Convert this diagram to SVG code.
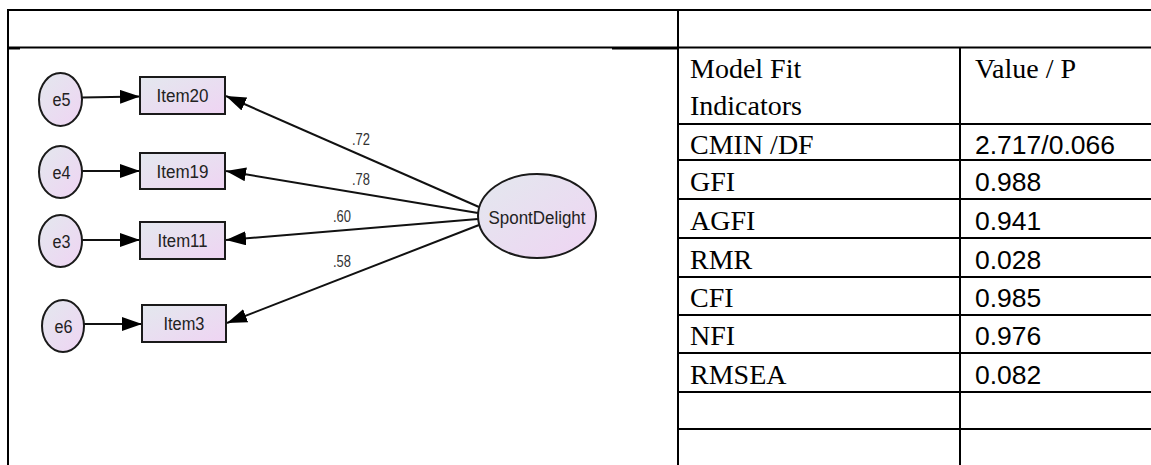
<svg xmlns="http://www.w3.org/2000/svg" width="1151" height="465" viewBox="0 0 1151 465">
  <style>
    .grid { stroke: #000; stroke-width: 2; fill: none; }
    .node { fill: url(#nodeFill); stroke: #1a1a1a; stroke-width: 2; }
    .nlabel { font-family: "Liberation Sans", Arial, sans-serif; font-size: 18px; fill: #222; text-anchor: middle; }
    .coef { font-family: "Liberation Sans", Arial, sans-serif; font-size: 16px; fill: #333; }
    .edge { stroke: #111; stroke-width: 2; fill: none; }
    .th { font-family: "Liberation Serif", "Times New Roman", serif; font-size: 28px; fill: #000; }
    .tv { font-family: "Liberation Sans", Arial, sans-serif; font-size: 26.5px; fill: #000; }
  </style>
  <defs>
    <linearGradient id="nodeFill" x1="0" y1="0" x2="1" y2="1">
      <stop offset="0" stop-color="#e3e8ee"/>
      <stop offset="1" stop-color="#efd4f3"/>
    </linearGradient>
    <marker id="arrow" markerUnits="userSpaceOnUse" markerWidth="20" markerHeight="14" refX="20" refY="7" orient="auto">
      <path d="M0,0 L20,7 L0,14 z" fill="#000"/>
    </marker>
  </defs>

  <rect width="1151" height="465" fill="#fff"/>

  <!-- table rules -->
  <g id="table-grid">
    <line class="grid" x1="8" y1="10" x2="1151" y2="10"/>
    <line class="grid" x1="8" y1="9" x2="8" y2="465"/>
    <line class="grid" x1="678" y1="9" x2="678" y2="465"/>
    <line class="grid" x1="960" y1="48" x2="960" y2="465"/>
    <line class="grid" x1="8" y1="47.5" x2="1151" y2="47.5" stroke-width="1.5"/>
    <line class="grid" x1="8" y1="48.5" x2="20" y2="48.5"/>
    <line class="grid" x1="612" y1="48.5" x2="678" y2="48.5"/>
    <line class="grid" x1="678" y1="124" x2="1151" y2="124"/>
    <line class="grid" x1="678" y1="160" x2="1151" y2="160"/>
    <line class="grid" x1="678" y1="199" x2="1151" y2="199"/>
    <line class="grid" x1="678" y1="238" x2="1151" y2="238"/>
    <line class="grid" x1="678" y1="277" x2="1151" y2="277"/>
    <line class="grid" x1="678" y1="315" x2="1151" y2="315"/>
    <line class="grid" x1="678" y1="353" x2="1151" y2="353"/>
    <line class="grid" x1="678" y1="392" x2="1151" y2="392"/>
    <line class="grid" x1="678" y1="429" x2="1151" y2="429"/>
  </g>

  <!-- fit indices table text -->
  <g id="table-text">
    <text class="th" x="690" y="78">Model Fit</text>
    <text class="th" x="690" y="115">Indicators</text>
    <text class="th" x="975" y="78">Value / P</text>
    <text class="th" x="690" y="154">CMIN /DF</text>
    <text class="tv" x="975" y="154">2.717/0.066</text>
    <text class="th" x="690" y="191">GFI</text>
    <text class="tv" x="975" y="191">0.988</text>
    <text class="th" x="690" y="230">AGFI</text>
    <text class="tv" x="975" y="230">0.941</text>
    <text class="th" x="690" y="269">RMR</text>
    <text class="tv" x="975" y="269">0.028</text>
    <text class="th" x="690" y="307">CFI</text>
    <text class="tv" x="975" y="307">0.985</text>
    <text class="th" x="690" y="345">NFI</text>
    <text class="tv" x="975" y="345">0.976</text>
    <text class="th" x="690" y="384">RMSEA</text>
    <text class="tv" x="975" y="384">0.082</text>
  </g>

  <!-- path model connectors -->
  <g id="connectors">
    <line class="edge" x1="82" y1="97.5" x2="140" y2="96.5" marker-end="url(#arrow)"/>
    <line class="edge" x1="82" y1="171" x2="140" y2="171" marker-end="url(#arrow)"/>
    <line class="edge" x1="82" y1="240" x2="140" y2="240" marker-end="url(#arrow)"/>
    <line class="edge" x1="84" y1="324" x2="142" y2="324" marker-end="url(#arrow)"/>
    <line class="edge" x1="479" y1="207" x2="226" y2="96" marker-end="url(#arrow)"/>
    <line class="edge" x1="478" y1="213" x2="226" y2="171" marker-end="url(#arrow)"/>
    <line class="edge" x1="478" y1="219" x2="226" y2="240" marker-end="url(#arrow)"/>
    <line class="edge" x1="479" y1="225" x2="227" y2="323" marker-end="url(#arrow)"/>
    <text class="coef" x="352" y="145" textLength="18" lengthAdjust="spacingAndGlyphs">.72</text>
    <text class="coef" x="352" y="185" textLength="18" lengthAdjust="spacingAndGlyphs">.78</text>
    <text class="coef" x="333" y="222" textLength="18" lengthAdjust="spacingAndGlyphs">.60</text>
    <text class="coef" x="333" y="267" textLength="18" lengthAdjust="spacingAndGlyphs">.58</text>
  </g>

  <!-- error terms -->
  <g id="e5">
    <ellipse class="node" cx="60.5" cy="99.5" rx="21.5" ry="26.5"/>
    <text class="nlabel" x="61.5" y="106" textLength="18" lengthAdjust="spacingAndGlyphs">e5</text>
  </g>
  <g id="e4">
    <ellipse class="node" cx="60.5" cy="172" rx="21.5" ry="26"/>
    <text class="nlabel" x="61.5" y="178.5" textLength="18" lengthAdjust="spacingAndGlyphs">e4</text>
  </g>
  <g id="e3">
    <ellipse class="node" cx="60.5" cy="241" rx="21.5" ry="26"/>
    <text class="nlabel" x="61.5" y="247.5" textLength="18" lengthAdjust="spacingAndGlyphs">e3</text>
  </g>
  <g id="e6">
    <ellipse class="node" cx="63" cy="326" rx="21" ry="26"/>
    <text class="nlabel" x="63.5" y="332.5" textLength="18" lengthAdjust="spacingAndGlyphs">e6</text>
  </g>

  <!-- observed items -->
  <g id="Item20">
    <rect class="node" x="140" y="77" width="85" height="37"/>
    <text class="nlabel" x="182.5" y="102" textLength="52" lengthAdjust="spacingAndGlyphs">Item20</text>
  </g>
  <g id="Item19">
    <rect class="node" x="140" y="153" width="85" height="36"/>
    <text class="nlabel" x="182.5" y="177.5" textLength="52" lengthAdjust="spacingAndGlyphs">Item19</text>
  </g>
  <g id="Item11">
    <rect class="node" x="140" y="222" width="85" height="37"/>
    <text class="nlabel" x="182.5" y="247" textLength="50" lengthAdjust="spacingAndGlyphs">Item11</text>
  </g>
  <g id="Item3">
    <rect class="node" x="142" y="305" width="84" height="37"/>
    <text class="nlabel" x="184" y="330" textLength="41" lengthAdjust="spacingAndGlyphs">Item3</text>
  </g>

  <!-- latent factor -->
  <g id="SpontDelight">
    <ellipse class="node" cx="537" cy="216" rx="59" ry="42"/>
    <text class="nlabel" x="537" y="223.5" textLength="97" lengthAdjust="spacingAndGlyphs">SpontDelight</text>
  </g>
</svg>
